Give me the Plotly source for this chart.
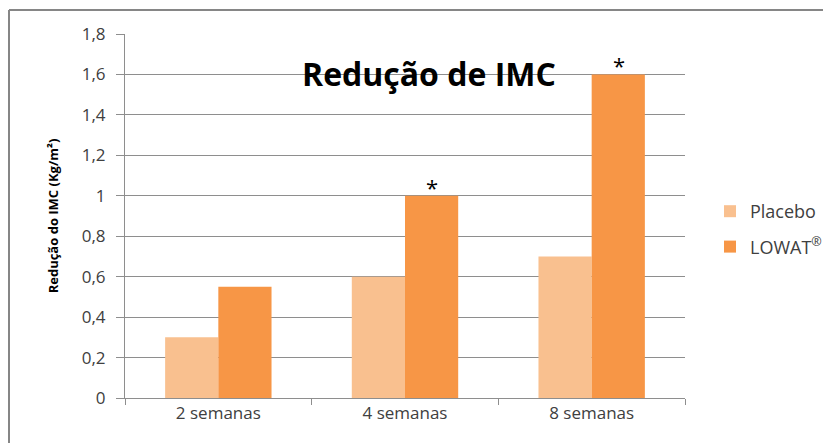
import plotly.graph_objects as go

categories = ["2 semanas", "4 semanas", "8 semanas"]
placebo = [0.3, 0.6, 0.7]
lowat = [0.55, 1.0, 1.6]
significant = [False, True, True]

PLACEBO_COLOR = "#f9c08f"
LOWAT_COLOR = "#f79646"
GRID = "#8e8e8e"
TEXT = "#404040"
FONT = "Open Sans, sans-serif"

# the page body adds an 8px offset, so layout is given in page pixels minus 8
OFF = 8
W, H = 831, 443
L, R, T, B = 125 - OFF, W - 685 + OFF, 34 - OFF, H - 398 + OFF
pw, ph = W - L - R, H - T - B


def px_x(p):
    return (p - OFF - L) / pw


def px_y(p):
    return (H - B - (p - OFF)) / ph


fig = go.Figure()
fig.add_trace(go.Bar(x=categories, y=placebo, name="Placebo", legendgroup="p",
                     marker=dict(color=PLACEBO_COLOR, line_width=0)))
fig.add_trace(go.Bar(x=categories, y=lowat, name="LOWAT<sup>®</sup>", legendgroup="l",
                     marker=dict(color=LOWAT_COLOR, line_width=0)))

# asterisks over significant LOWAT bars
for cat, val, sig in zip(categories, lowat, significant):
    if sig:
        fig.add_annotation(x=cat, y=val, text="*", showarrow=False,
                           xshift=27, yanchor="bottom", yshift=-8,
                           font=dict(family=FONT, size=22, color="#000000"))

fig.add_annotation(x=px_x(429), y=px_y(50), xref="paper", yref="paper",
                   text="<b>Redução de IMC</b>", showarrow=False,
                   font=dict(family=FONT, size=32, color="#000000"))

# chart frame (top and left edges visible)
fig.add_shape(type="line", xref="paper", yref="paper",
              x0=px_x(9), x1=px_x(W + 20), y0=px_y(10), y1=px_y(10),
              line=dict(color="#868686", width=2))
fig.add_shape(type="line", xref="paper", yref="paper",
              x0=px_x(9), x1=px_x(9), y0=px_y(10), y1=px_y(H + 20),
              line=dict(color="#868686", width=2))

fig.update_layout(
    width=W, height=H,
    margin=dict(l=L, r=R, t=T, b=B),
    paper_bgcolor="white", plot_bgcolor="white",
    barmode="group", bargap=0.43, bargroupgap=0,
    separators=", ",
    font=dict(family=FONT, size=17, color=TEXT),
    showlegend=True,
    legend=dict(x=px_x(710), y=px_y(229), xanchor="left", yanchor="middle",
                font=dict(family=FONT, size=18, color=TEXT),
                itemwidth=30, tracegroupgap=9, bgcolor="rgba(0,0,0,0)"),
    xaxis=dict(showline=True, linecolor=GRID, ticks="outside",
               tickson="boundaries", tickcolor=GRID, ticklen=6,
               tickfont=dict(size=17, color=TEXT), showgrid=False),
    yaxis=dict(range=[0, 1.8], dtick=0.2, showline=True, linecolor=GRID,
               showgrid=True, gridcolor=GRID, gridwidth=1,
               ticks="outside", tickcolor=GRID, ticklen=8,
               ticklabelstandoff=7,
               tickfont=dict(size=17, color=TEXT), zeroline=False,
               title=dict(text="<b>Redução do IMC (Kg/m²)</b>", standoff=20,
                          font=dict(family=FONT, size=13, color="#000000"))),
)

fig.write_html("out.html")
